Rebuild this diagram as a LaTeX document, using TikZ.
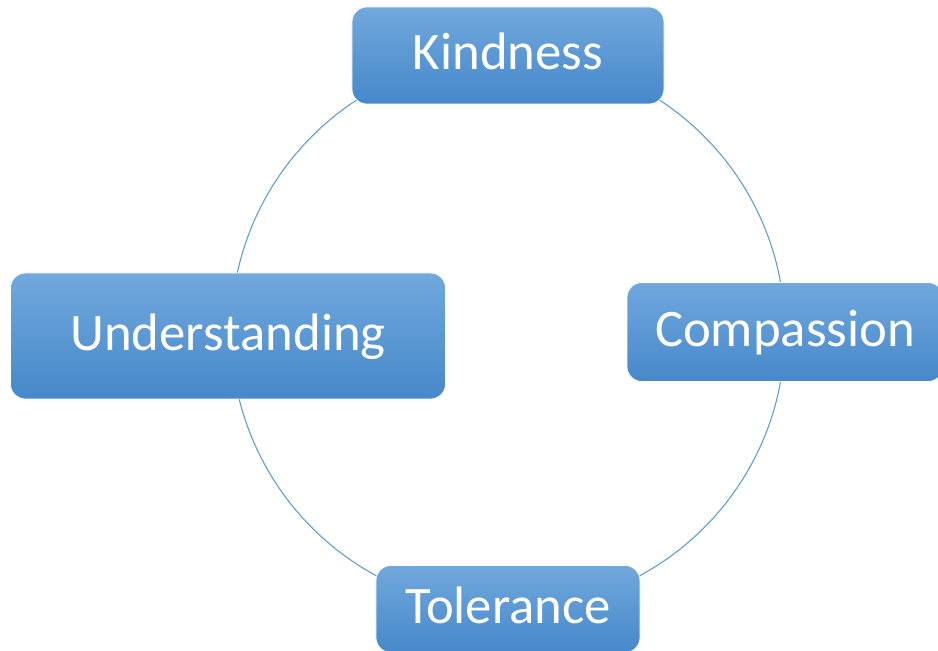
\documentclass[tikz,border=0pt]{standalone}
\usepackage{fontspec}
\setmainfont{Carlito}
\usepackage{tikz}
\usetikzlibrary{positioning,calc}
\usepackage{xcolor}

\definecolor{boxtop}{RGB}{113,168,221}
\definecolor{boxbottom}{RGB}{70,136,202}
\definecolor{ringblue}{RGB}{91,155,213}

\begin{document}
\begin{tikzpicture}[
            value/.style={rectangle,rounded corners=0.3cm,draw=white,line width=0.4pt,
                top color=boxtop,bottom color=boxbottom,text=white,
                font=\fontsize{30}{36}\selectfont,inner sep=0pt,
                text height=0.65cm,text depth=0.07cm},
            ring/.style={draw=ringblue,line width=0.6pt}
        ]
            \useasboundingbox (-10.16,-6.38) rectangle (8.60,6.64);
            \coordinate (cen) at (0,0);
            % the ring behind the four values
            \draw[ring] (cen) circle (5.54);
            \node[value,minimum width=6.24cm,minimum height=1.94cm] (kind) at ($(cen)+(90:5.53)$) {Kindness};
            \node[value,minimum width=6.32cm,minimum height=1.98cm] (comp) at ($(cen)+(0:5.54)$) {Compassion};
            \node[value,minimum width=5.28cm,minimum height=1.74cm] (tole) at ($(cen)+(270:5.54)$) {Tolerance};
            \node[value,minimum width=8.70cm,minimum height=2.52cm] (unde) at ($(cen)+(-5.60,-0.08)$) {Understanding};
\end{tikzpicture}
\end{document}
